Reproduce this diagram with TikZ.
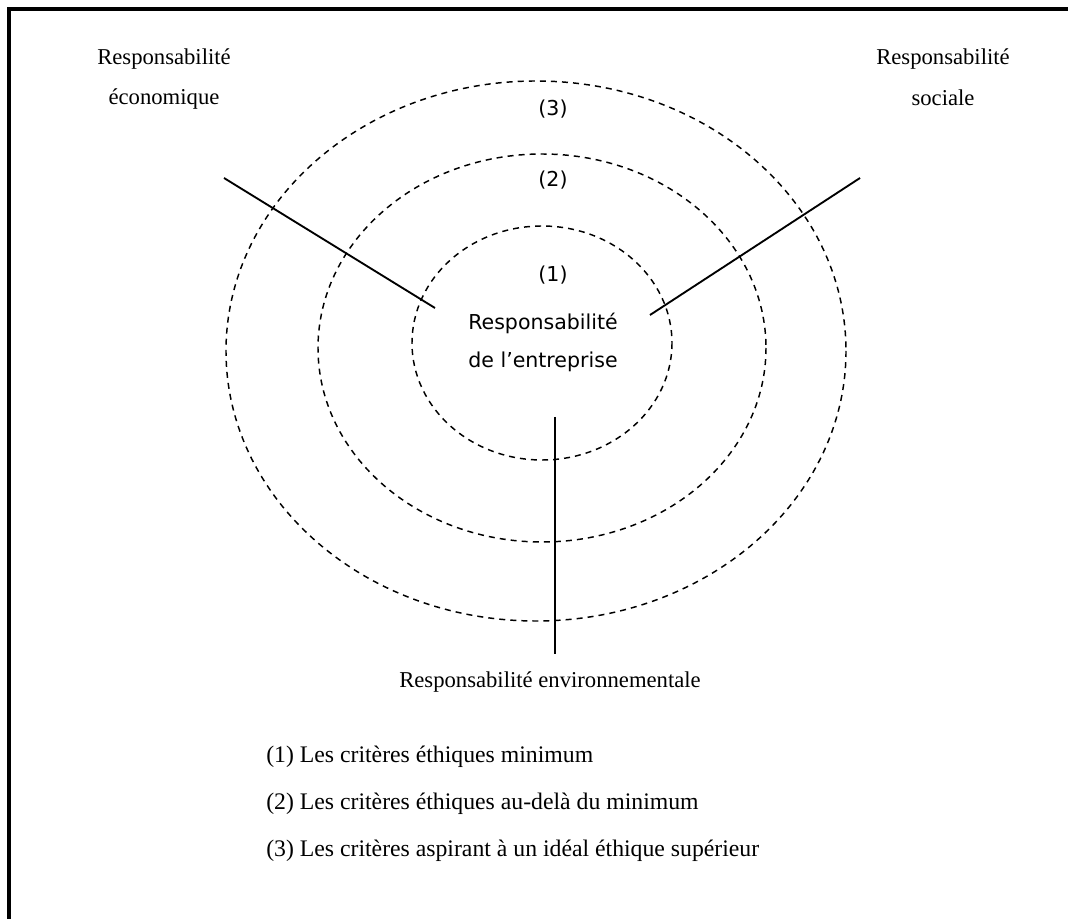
\documentclass[tikz,border=0pt]{standalone}
\usepackage{fontspec}
\setmainfont{Liberation Serif}
\newfontfamily\ringfont{DejaVu Sans}

\tikzset{
  ring/.style={draw=black, line width=1.1pt, dash pattern=on 4.5pt off 3.8pt},
  spoke/.style={draw=black, line width=1.4pt},
  serif label/.style={anchor=base, inner sep=0pt, font=\fontsize{17}{20}\selectfont},
  ring label/.style={anchor=base, inner sep=0pt, font=\ringfont\fontsize{15.4}{18}\selectfont},
  legend item/.style={anchor=base west, inner sep=0pt, font=\fontsize{17.8}{21}\selectfont}
}

\begin{document}
\begin{tikzpicture}[x=0.75pt,y=-0.75pt]
    \useasboundingbox (0,0) rectangle (1068,919);
    % frame (only top and left edges are visible)
    \draw[line width=3pt] (9,919) -- (9,9) -- (1068,9);

    % the three rings
    \foreach \name/\cx/\cy/\rx/\ry in {inner/542/343/130/117,
                                       middle/542/348/224/194,
                                       outer/536/351/310/270} {
      \draw[ring] (\cx,\cy) ellipse [x radius=\rx, y radius=\ry];
    }

    % ring numbers and centre
    \node[ring label] (lvl3) at (553,116) {(3)};
    \node[ring label] (lvl2) at (553,187) {(2)};
    \node[ring label] (lvl1) at (553,282) {(1)};
    \node[ring label] (centre1) at (543,330) {Responsabilité};
    \node[ring label] (centre2) at (543,368) {de l’entreprise};

    % spokes
    \coordinate (ecoOut) at (224,178);
    \coordinate (ecoIn)  at (435,308);
    \coordinate (socOut) at (860,178);
    \coordinate (socIn)  at (650,315);
    \coordinate (envIn)  at (555,417);
    \coordinate (envOut) at (555,654);
    \draw[spoke] (ecoOut) -- (ecoIn);
    \draw[spoke] (socIn) -- (socOut);
    \draw[spoke] (envIn) -- (envOut);

    % the three responsibilities
    \node[serif label] (eco1) at (164,65)  {Responsabilité};
    \node[serif label] (eco2) at (164,105) {économique};
    \node[serif label] (soc1) at (943,65)  {Responsabilité};
    \node[serif label] (soc2) at (943,106) {sociale};
    \node[serif label] (env)  at (550,687) {Responsabilité environnementale};

    % legend
    \node[legend item] (leg1) at (266,762) {(1) Les critères éthiques minimum};
    \node[legend item] (leg2) at (266,809) {(2) Les critères éthiques au-delà du minimum};
    \node[legend item] (leg3) at (266,856) {(3) Les critères aspirant à un idéal éthique supérieur};
\end{tikzpicture}
\end{document}
